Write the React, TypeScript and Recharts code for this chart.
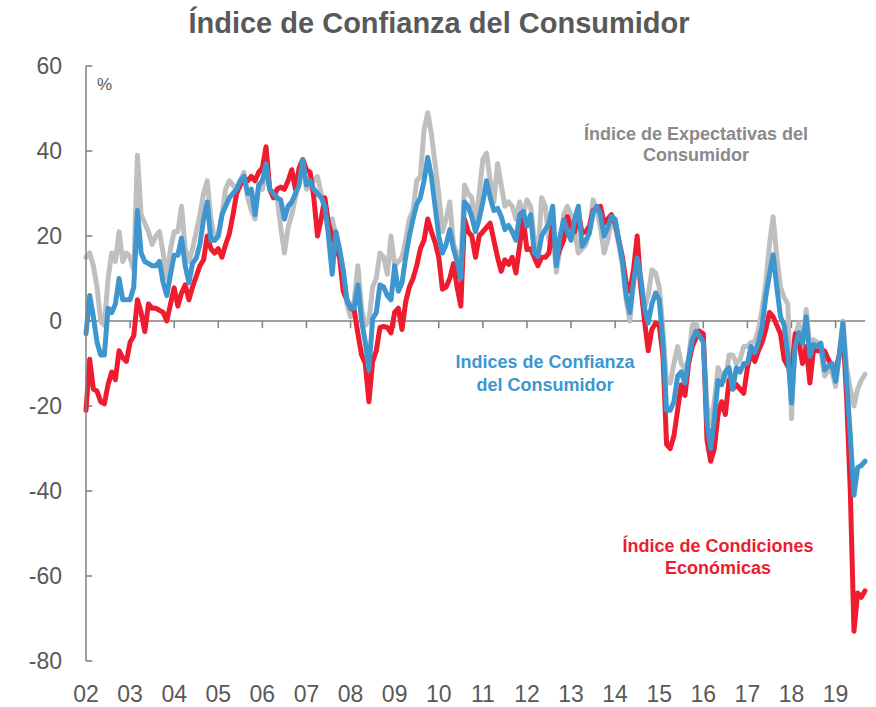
import React from "react";
import { LineChart, Line, XAxis, YAxis, ReferenceLine } from "recharts";

const yearLabels = ["02","03","04","05","06","07","08","09","10","11","12","13","14","15","16","17","18","19"];
const yTicks = [-80, -60, -40, -20, 0, 20, 40, 60];

// Índice de Expectativas del Consumidor (monthly)
const expectativas = [
  15, 16, 13, 8, 0, -1, 10, 16, 14, 21, 14, 16,
  15, 12, 39, 25, 23, 21, 18, 20, 21, 16, 10, 17,
  21, 21, 27, 17, 14, 17, 21, 25, 30, 33, 24, 19,
  20, 25, 31, 33, 32, 31, 33, 35, 29, 26, 24, 32,
  31, 36, 31, 30, 29, 22, 16, 22, 25, 29, 33, 37,
  31, 32, 33, 34, 30, 27, 23, 24, 20, 16, 12, 4,
  1, 5, 13, 3, -1, 0, 8, 10, 16, 15, 11, 20,
  13, 14, 15, 19, 24, 26, 33, 34, 45, 49, 44, 37,
  30, 21, 24, 28, 18, 16, 13, 32, 30, 29, 22, 30,
  38, 39.5, 33, 28, 37, 32, 27, 28, 27, 24, 28, 25,
  28.5, 27, 19, 15.5, 29, 27, 19, 21, 11.5, 17, 25, 27,
  25, 21, 16, 17, 18, 21, 28.5, 26, 22, 16, 19, 23.8,
  22, 18, 13, 5, 0, 10, 12.9, 8, 3, 6, 12, 11.3,
  8, -2, -14.6, -14.6, -10, -6, -10, -11.4, -9, -1, -0.5, -3.6,
  -4.4, -20, -24, -19, -11, -13, -14, -8, -8, -10, -9, -6,
  -6, -5, -5, -2, 2.7, 9, 18, 24.5, 15, 8, 5.5, 4,
  -23, -3.6, -0.5, -6, 2.7, -6.7, -4.4, -5, -7, -13, -11.5, -12,
  -15.4, -8, 0, -11, -16, -20, -16, -14, -12.5,
];

// Índice de Confianza del Consumidor
const confianza = [
  -3, 6, 1, -5, -8, -8, 3, 2, 4, 10, 5, 5,
  5, 8, 26, 16, 14, 13.5, 13, 13, 14, 9, 6, 11,
  15.5, 15.5, 19.5, 13, 9, 13.6, 14.8, 18, 24, 28, 19, 19,
  20, 25, 27, 29, 30, 31, 33, 34, 30, 31, 25, 32,
  33, 37, 31, 30, 29, 28.5, 24, 27, 28, 30, 32, 38,
  32, 33, 31, 30, 29, 27, 20, 11, 21, 17, 12, 5,
  3, 3, 8.5, 0, -5, -11.5, 0.5, 2, 8.5, 8, 6, 5,
  13, 7, 9, 15, 20, 24, 27.5, 29, 33, 38.5, 34, 27,
  20, 16, 18, 21.5, 17, 14, 10, 28, 27, 24.5, 21, 24,
  28, 33, 29, 26, 26.5, 24.6, 21.5, 22.5, 21, 19, 25, 25.8,
  22.3, 25, 16, 15.2, 20, 21.5, 23, 27, 13, 20, 23.8, 21,
  19, 24, 27, 17.6, 19, 20.7, 25.4, 27, 25, 20, 22, 24.6,
  24, 19, 14, 6, 2, 9, 14.8, 10, 3, -0.5, 4, 6.6,
  5, -5, -21, -21, -19, -13, -12, -14.6, -9, -4.4, -2.4, -3.6,
  -5, -24, -30, -23, -14, -15, -12, -11, -16, -11, -12, -10,
  -10, -6, -7.5, -5, -1.3, 5.8, 11, 15.6, 8, 1, -1, -8,
  -19.3, -6, -2.8, -5.2, 1, -8.3, -5.5, -6, -5.2, -11.5, -10.7, -10,
  -14.2, -8, -0.5, -14, -27, -41, -34.5, -34, -33,
];

// Índice de Condiciones Económicas
const condiciones = [
  -21, -9, -16, -16.5, -19, -19.5, -15, -12, -13.8, -7, -8.7, -9.5,
  -5, -3.5, 5, 2, -2.5, 4, 3, 3, 2.5, 2, 0, 4,
  7.8, 3.5, 6.6, 8.5, 5, 8, 10.5, 13, 14.4, 20, 17, 16,
  17, 15, 18, 20.5, 25, 30, 32, 33.6, 33, 34, 33, 35,
  36, 41, 31, 29, 31, 31.5, 31, 33, 35.6, 31, 36, 38,
  35.6, 35, 29, 20, 24, 29, 23, 20, 17, 15, 7, 5,
  3, 2.5, -3, -8, -10, -19, -9.5, -7, -1.5, -1.3, -1.5, -2.8,
  2, 3, -2, 4.5, 8, 10, 13, 17, 19, 24, 21, 18.5,
  15, 7.5, 8, 10, 13.5, 8, 3.5, 24, 21, 20, 15, 20,
  21, 22, 23, 19, 15, 11.7, 14.4, 13.3, 15, 11.3, 17.6, 24,
  16.8, 17, 15, 13, 15, 15, 16, 23, 14.4, 17, 19, 24.6,
  22, 21, 25.4, 20.7, 21, 22.3, 26, 26.5, 27, 23, 24, 25,
  23, 19, 15, 9, 7, 12, 20, 8, 0, -7, -2, -0.5,
  -1, -8, -29, -30, -27, -21, -15, -17.5, -10, -6, -4, -2.4,
  -3, -28, -33, -30, -22, -19, -22, -14, -16, -15, -16, -17,
  -11, -7.5, -9.5, -7, -5, -2, 2, 1, -1, -3, -9, -10.7,
  -12, -3, -5, -10, -6, -14.6, -6.7, -7, -7, -7, -9, -10.7,
  -11.5, -8, -2, -18, -40, -73, -64, -65, -63.5,
];

const data = confianza.map((v, i) => ({
  i,
  exp: expectativas[i],
  conf: v,
  cond: condiciones[i],
}));

const lastIndex = data.length - 1;
const xTicks = yearLabels.map((_, k) => k * 12);

const FONT = "'Liberation Sans', Arial, Helvetica, sans-serif";
const AXIS = "#7f7f7f";
const TEXT = "#595959";
const GRAY = "#BFBFBF";
const BLUE = "#3E96CE";
const RED = "#EE1C2E";

export default function App() {
  return (
    <div style={{ position: "absolute", left: 0, top: 0, width: 876, height: 707, background: "#fff", fontFamily: FONT }}>
      <LineChart
        width={876}
        height={707}
        data={data}
        margin={{ top: 66, right: 11, bottom: 16, left: 0 }}
      >
        <XAxis
          dataKey="i"
          type="number"
          domain={[0, lastIndex]}
          ticks={xTicks}
          tickFormatter={(v) => yearLabels[Math.round(v / 12)] ?? ""}
          axisLine={false}
          tickLine={false}
          height={30}
          tickMargin={19}
          tick={{ fill: TEXT, fontSize: 23, fontFamily: FONT }}
          interval={0}
        />
        <YAxis
          type="number"
          domain={[-80, 60]}
          ticks={yTicks}
          width={86}
          axisLine={{ stroke: AXIS, strokeWidth: 1.5 }}
          tickLine={false}
          tickMargin={18}
          tick={{ fill: TEXT, fontSize: 23, fontFamily: FONT }}
          interval={0}
        />
        <ReferenceLine y={0} stroke={AXIS} strokeWidth={1.5} />
        {xTicks.map((t) => (
          <ReferenceLine
            key={"xt" + t}
            segment={[{ x: t, y: 0 }, { x: t, y: -1.7 }]}
            stroke={AXIS}
            strokeWidth={1.5}
          />
        ))}
        {yTicks.map((t) => (
          <ReferenceLine
            key={"yt" + t}
            segment={[{ x: 0, y: t }, { x: 1.7, y: t }]}
            stroke={AXIS}
            strokeWidth={1.5}
          />
        ))}
        <Line type="linear" dataKey="exp" stroke={GRAY} strokeWidth={5} dot={false} isAnimationActive={false} strokeLinejoin="round" strokeLinecap="round" />
        <Line type="linear" dataKey="cond" stroke={RED} strokeWidth={5} dot={false} isAnimationActive={false} strokeLinejoin="round" strokeLinecap="round" />
        <Line type="linear" dataKey="conf" stroke={BLUE} strokeWidth={5} dot={false} isAnimationActive={false} strokeLinejoin="round" strokeLinecap="round" />
      </LineChart>
      <svg width={876} height={707} style={{ position: "absolute", left: 0, top: 0, pointerEvents: "none" }}>
        <text x={439} y={33} textAnchor="middle" fontSize={29} fontWeight="bold" fill={TEXT} fontFamily={FONT}>
          Índice de Confianza del Consumidor
        </text>
        <text x={97} y={90} fontSize={17} fill={TEXT} fontFamily={FONT}>%</text>
        <text textAnchor="middle" fontSize={18} fontWeight="bold" fill="#8a8a8a" fontFamily={FONT}>
          <tspan x={696} y={140}>Índice de Expectativas del</tspan>
          <tspan x={696} y={161}>Consumidor</tspan>
        </text>
        <text textAnchor="middle" fontSize={18} fontWeight="bold" fill={BLUE} fontFamily={FONT}>
          <tspan x={545} y={368}>Indices de Confianza</tspan>
          <tspan x={545} y={391}>del Consumidor</tspan>
        </text>
        <text textAnchor="middle" fontSize={18} fontWeight="bold" fill={RED} fontFamily={FONT}>
          <tspan x={718} y={552}>Índice de Condiciones</tspan>
          <tspan x={718} y={574}>Económicas</tspan>
        </text>
      </svg>
    </div>
  );
}
